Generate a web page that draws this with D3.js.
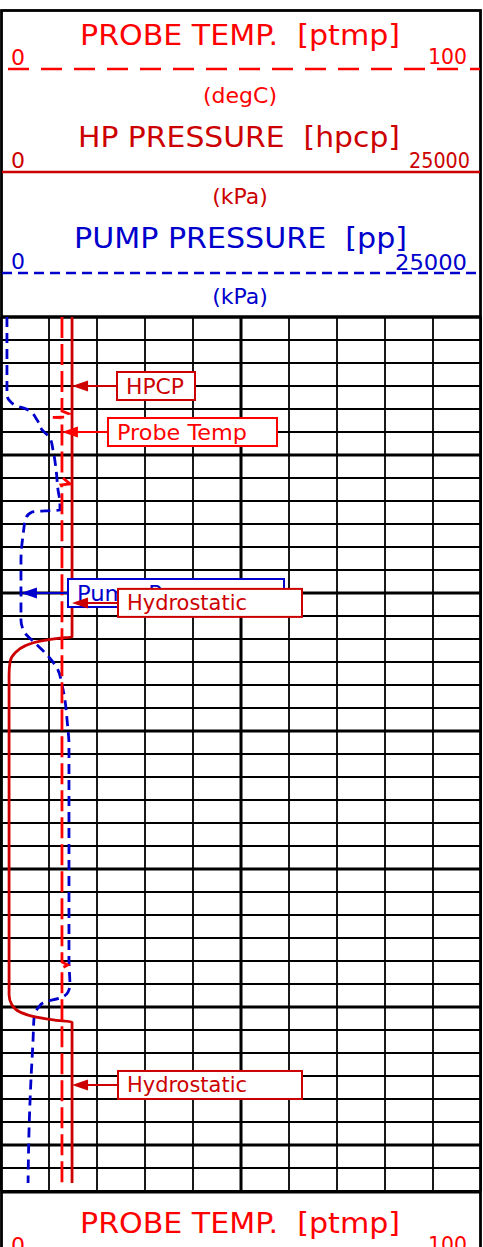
<!DOCTYPE html>
<meta charset="utf-8">
<style>
body { margin: 0; background: #fff; }
svg { display: block; }
text { font-family: "DejaVu Sans", sans-serif; white-space: pre; }
.grid line { stroke: #000; }
</style>

<svg width="483" height="1247"></svg>

<script src="https://d3js.org/d3.v7.min.js"></script>
<script>

// ---- data (depth in grid rows, values in track units) ----
var tempDepth = [0, 4.09, 4.22, 4.35, 4.36, 4.39, 6.96, 7.26, 7.30, 7.39, 28.04, 28.17, 28.30, 37.65];
var tempVal   = [12.7, 12.7, 14.2, 13.5, 10.8, 12.7, 12.7, 14.4, 12.5, 12.7, 12.7, 13.9, 12.7, 12.7];

var hpDepth = [0, 13.91, 13.96, 14.09, 14.30, 14.61, 15.0, 15.57, 29.48, 29.91, 30.22, 30.43, 30.57, 30.65, 37.65];
var hpVal   = [3700, 3700, 3070, 2030, 1250, 730, 470, 420, 420, 570, 990, 1770, 2810, 3700, 3700];

var ppDepth = [0, 3.39, 3.61, 3.83, 4.04, 4.48, 4.91, 5.26, 5.78, 6.65, 7.52, 8.09, 8.39, 8.43, 8.48, 8.74, 9.48, 10.57,
               13.17, 13.74, 14.17, 14.74, 15.35, 16.0, 16.65, 17.52, 18.61, 27.96, 29.04, 29.35, 29.61, 29.78, 30.04,
               30.48, 31.43, 33.17, 35.35, 37.65];
var ppVal   = [310, 310, 420, 730, 1410, 1880, 2140, 2550, 2710, 2870, 2970, 3070, 3070, 2290, 1620, 1300, 1150, 1040,
               1040, 1250, 1770, 2450, 2970, 3180, 3330, 3440, 3540, 3540, 3590, 3490, 3070, 2290, 1930,
               1720, 1670, 1560, 1460, 1410];

// annotations: label, series, depth
var annoText   = ["HPCP", "Probe Temp", "Pump Pressure", "Hydrostatic", "Hydrostatic"];
var annoSeries = ["hp", "temp", "pp", "hp", "hp"];
var annoDepth  = [3.0, 5.0, 12.0, 12.43, 33.39];

var tempDomain = [0, 100], pressDomain = [0, 25000];
var nRows = 38;

// ---- setup ----
var svg = d3.select("svg"),
    width = +svg.attr("width"),
    height = +svg.attr("height");

var left = 1, right = 481, gridTop = 317, gridBottom = 1191;

var xTemp = d3.scaleLinear().domain(tempDomain).range([left, right]);
var xHp = d3.scaleLinear().domain(pressDomain).range([left, right]);
var xPp = d3.scaleLinear().domain(pressDomain).range([left, right]);
var y = d3.scaleLinear().domain([0, nRows]).range([gridTop, gridBottom]);

var RED = "#ff0000", DRED = "#cc0000", BLUE = "#0000cc";

// ---- grid ----
var grid = svg.append("g").attr("class", "grid");

grid.selectAll("line.h")
    .data(d3.range(0, nRows + 1))
    .enter().append("line")
      .attr("class", "h")
      .attr("x1", left).attr("x2", right)
      .attr("y1", function(d) { return y(d); })
      .attr("y2", function(d) { return y(d); })
      .attr("stroke-width", function(d) { return d % 6 == 0 ? 3 : 1.8; });

grid.selectAll("line.v")
    .data(xTemp.ticks(10))
    .enter().append("line")
      .attr("class", "v")
      .attr("x1", function(d) { return xTemp(d); })
      .attr("x2", function(d) { return xTemp(d); })
      .attr("y1", gridTop).attr("y2", gridBottom)
      .attr("stroke-width", function(d) { return d == 50 ? 3 : 1.8; });

// outer frame
svg.append("rect")
    .attr("x", 1.5).attr("y", 10.5)
    .attr("width", 479).attr("height", 1260)
    .attr("fill", "none").attr("stroke", "#000").attr("stroke-width", 2.8);

svg.append("line")
    .attr("x1", left).attr("x2", right).attr("y1", gridTop).attr("y2", gridTop)
    .attr("stroke", "#000").attr("stroke-width", 3);

// ---- track headers ----
function header(opts) {
  var g = svg.append("g").attr("fill", opts.color);
  g.append("text")
      .attr("x", opts.tx).attr("y", opts.ty)
      .attr("font-size", 28)
      .attr("textLength", opts.tw).attr("lengthAdjust", "spacingAndGlyphs")
      .text(opts.title);
  g.append("line")
      .attr("x1", left + 1).attr("x2", right - 1)
      .attr("y1", opts.ly).attr("y2", opts.ly)
      .attr("stroke", opts.color).attr("stroke-width", 2.4)
      .attr("stroke-dasharray", opts.dash).attr("stroke-dashoffset", opts.dashOff || 0);
  g.append("text")
      .attr("x", 11).attr("y", opts.ly - 4)
      .attr("font-size", 21).attr("textLength", 14).attr("lengthAdjust", "spacingAndGlyphs")
      .text(opts.domain[0]);
  var maxLbl = String(opts.domain[1]);
  g.append("text")
      .attr("x", opts.rx).attr("y", opts.ly - opts.rdy)
      .attr("font-size", 21).attr("textLength", opts.rw).attr("lengthAdjust", "spacingAndGlyphs")
      .text(maxLbl);
  if (opts.unit) {
    g.append("text")
        .attr("x", 240).attr("y", opts.uy)
        .attr("text-anchor", "middle")
        .attr("font-size", 22)
        .text(opts.unit);
  }
}

header({ title: "PROBE TEMP.  [ptmp]", color: RED, tx: 80, ty: 45, tw: 320, ly: 69,
         dash: "21,12", dashOff: -6, domain: tempDomain, rx: 428, rdy: 5, rw: 39, unit: "(degC)", uy: 103 });
header({ title: "HP PRESSURE  [hpcp]", color: DRED, tx: 78, ty: 147, tw: 322, ly: 172,
         dash: null, domain: pressDomain, rx: 409, rdy: 4, rw: 61, unit: "(kPa)", uy: 204 });
header({ title: "PUMP PRESSURE  [pp]", color: BLUE, tx: 74, ty: 248, tw: 333, ly: 273,
         dash: "10,6", domain: pressDomain, rx: 395, rdy: 3, rw: 72, unit: "(kPa)", uy: 304 });

// bottom header (repeated)
svg.append("line")
    .attr("x1", left).attr("x2", right).attr("y1", gridBottom + 1).attr("y2", gridBottom + 1)
    .attr("stroke", "#000").attr("stroke-width", 3);
header({ title: "PROBE TEMP.  [ptmp]", color: RED, tx: 80, ty: 1233, tw: 320, ly: 1257,
         dash: "21,12", dashOff: -6, domain: tempDomain, rx: 428, rdy: 5, rw: 39 });

// ---- curves ----
var curves = svg.append("g").attr("fill", "none");

var tempLine = d3.line()
    .x(function(d) { return xTemp(d[1]); })
    .y(function(d) { return y(d[0]); });

var hpLine = d3.line()
    .curve(d3.curveMonotoneY)
    .x(function(d) { return xHp(d[1]); })
    .y(function(d) { return y(d[0]); });

var ppLine = d3.line()
    .curve(d3.curveMonotoneY)
    .x(function(d) { return xPp(d[1]); })
    .y(function(d) { return y(d[0]); });

curves.append("path")
    .datum(d3.zip(ppDepth, ppVal))
    .attr("d", ppLine)
    .attr("stroke", BLUE).attr("stroke-width", 2.8)
    .attr("stroke-dasharray", "10,6");

curves.append("path")
    .datum(d3.zip(hpDepth, hpVal))
    .attr("d", hpLine)
    .attr("stroke", DRED).attr("stroke-width", 2.8);

curves.append("path")
    .datum(d3.zip(tempDepth, tempVal))
    .attr("d", tempLine)
    .attr("stroke", RED).attr("stroke-width", 2.8)
    .attr("stroke-dasharray", "21,6");

// ---- annotations ----
var series = {
  temp: { depth: tempDepth, val: tempVal, x: xTemp, color: RED },
  hp:   { depth: hpDepth, val: hpVal, x: xHp, color: DRED },
  pp:   { depth: ppDepth, val: ppVal, x: xPp, color: BLUE }
};
var boxLeft  = [117, 108, 68, 118, 118];
var boxWidth = [78, 169, 216, 184, 184];
var textLen  = [58, 130, 168, 120, 120];

function valueAt(s, d) {
  return d3.scaleLinear().domain(s.depth).range(s.val)(d);
}

annoText.forEach(function(label, i) {
  var s = series[annoSeries[i]];
  var yy = y(annoDepth[i]);
  var tip = s.x(valueAt(s, annoDepth[i]));
  var g = svg.append("g");
  g.append("line")
      .attr("x1", tip + 10).attr("x2", boxLeft[i])
      .attr("y1", yy).attr("y2", yy)
      .attr("stroke", s.color).attr("stroke-width", 2);
  g.append("path")
      .attr("d", "M" + tip + "," + yy + "L" + (tip + 16) + "," + (yy - 5.5) + "L" + (tip + 16) + "," + (yy + 5.5) + "Z")
      .attr("fill", s.color);
  g.append("rect")
      .attr("x", boxLeft[i]).attr("y", yy - 14)
      .attr("width", boxWidth[i]).attr("height", 28)
      .attr("fill", "#fff").attr("stroke", s.color).attr("stroke-width", 2);
  g.append("text")
      .attr("x", boxLeft[i] + 9).attr("y", yy + 7.5)
      .attr("font-size", 21)
      .attr("textLength", textLen[i]).attr("lengthAdjust", "spacingAndGlyphs")
      .attr("fill", s.color)
      .text(label);
});

</script>
